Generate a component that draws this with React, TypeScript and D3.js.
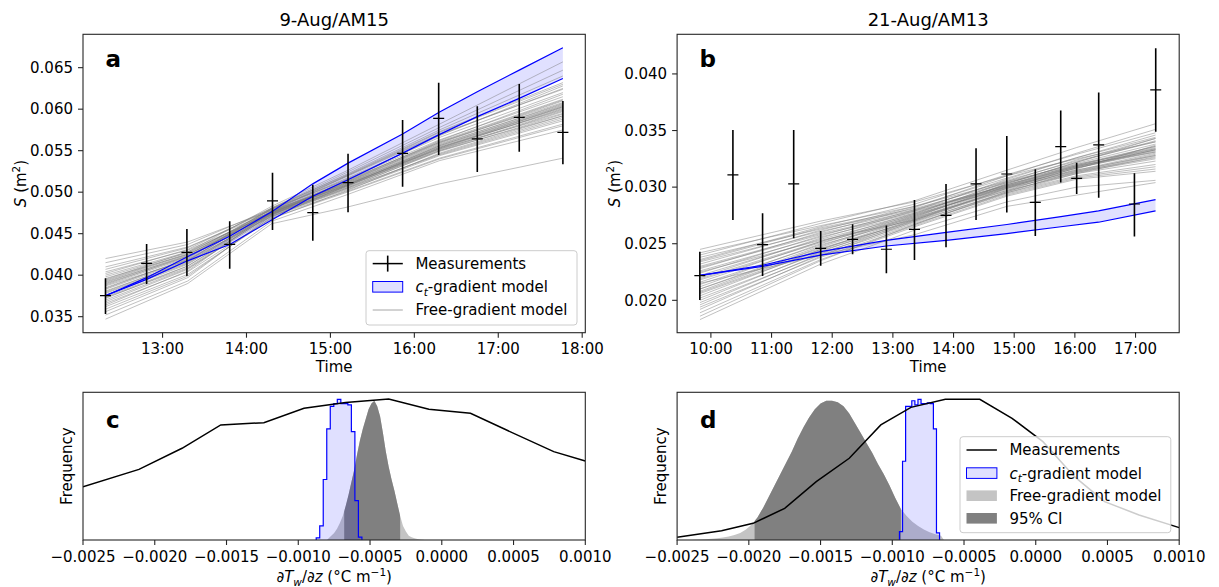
import React from "react";
import * as d3 from "d3";

const FONT = "'DejaVu Sans', 'Liberation Sans', sans-serif";

// ---------------- Panel a : 9-Aug/AM15 ----------------
const titleA = "9-Aug/AM15";
const timeTicksA = [13, 14, 15, 16, 17, 18];
const sTicksA = [0.035, 0.04, 0.045, 0.05, 0.055, 0.06, 0.065];
const measTimeA = [12.32, 12.81, 13.29, 13.8, 14.31, 14.79, 15.21, 15.86, 16.29, 16.75, 17.25, 17.77];
const measValA = [0.03753, 0.04143, 0.04275, 0.04371, 0.04894, 0.04753, 0.05114, 0.05468, 0.05889, 0.05641, 0.05901, 0.05721];
const measLoA = [0.03532, 0.03894, 0.0399, 0.04078, 0.04544, 0.04416, 0.04757, 0.05066, 0.05448, 0.05243, 0.05488, 0.05335];
const measHiA = [0.03962, 0.04376, 0.04556, 0.04649, 0.05235, 0.0509, 0.05464, 0.05869, 0.06319, 0.06034, 0.06303, 0.06098];
const ctUpperA = [0.03753, 0.0397, 0.0422, 0.0447, 0.0477, 0.051, 0.0535, 0.057, 0.0596, 0.0621, 0.0647, 0.0674];
const ctLowerA = [0.03753, 0.0395, 0.0417, 0.0437, 0.0467, 0.0495, 0.0515, 0.0547, 0.0569, 0.0591, 0.0613, 0.0637];
const freeTimeA = [12.32, 13.3, 14.3, 15.2, 16.3, 17.77];
const freeLinesA = [
  [0.042, 0.044, 0.0478, 0.051, 0.0552, 0.0595],
  [0.0415, 0.0437, 0.048, 0.0515, 0.056, 0.0608],
  [0.041, 0.0434, 0.0476, 0.0508, 0.055, 0.0592],
  [0.0407, 0.0433, 0.0479, 0.0517, 0.0566, 0.062],
  [0.0404, 0.043, 0.0474, 0.0505, 0.0545, 0.0588],
  [0.0402, 0.0431, 0.0481, 0.0521, 0.0573, 0.0632],
  [0.04, 0.0428, 0.0475, 0.0509, 0.0553, 0.06],
  [0.0398, 0.0427, 0.0477, 0.0513, 0.0559, 0.061],
  [0.0396, 0.0425, 0.0473, 0.0504, 0.0546, 0.059],
  [0.0394, 0.0426, 0.0479, 0.0519, 0.0569, 0.0625],
  [0.0392, 0.0423, 0.0474, 0.0507, 0.0551, 0.0598],
  [0.039, 0.0422, 0.0476, 0.0512, 0.0558, 0.0606],
  [0.0388, 0.0421, 0.0478, 0.0516, 0.0563, 0.0615],
  [0.0387, 0.0418, 0.0471, 0.0501, 0.0541, 0.0582],
  [0.0385, 0.0419, 0.0475, 0.051, 0.0556, 0.0604],
  [0.0383, 0.0418, 0.0477, 0.0514, 0.0561, 0.0612],
  [0.0381, 0.0416, 0.0474, 0.0508, 0.0552, 0.0601],
  [0.038, 0.0417, 0.048, 0.0522, 0.0575, 0.064],
  [0.0378, 0.0414, 0.0473, 0.0506, 0.0549, 0.0594],
  [0.0376, 0.0413, 0.0476, 0.0511, 0.0557, 0.0607],
  [0.0374, 0.0411, 0.0472, 0.0503, 0.0544, 0.0586],
  [0.0372, 0.0411, 0.0475, 0.0513, 0.0562, 0.0618],
  [0.037, 0.0408, 0.0471, 0.0505, 0.055, 0.0597],
  [0.0368, 0.0407, 0.0474, 0.0512, 0.056, 0.0611],
  [0.0366, 0.0404, 0.0469, 0.05, 0.054, 0.058],
  [0.0364, 0.0405, 0.0477, 0.052, 0.0572, 0.063],
  [0.0362, 0.0401, 0.0468, 0.0502, 0.0547, 0.0592],
  [0.0359, 0.0399, 0.047, 0.0508, 0.0556, 0.0605],
  [0.0356, 0.0397, 0.0472, 0.0515, 0.0568, 0.0628],
  [0.0352, 0.0393, 0.0465, 0.0497, 0.0538, 0.0575],
  [0.0347, 0.039, 0.0462, 0.0482, 0.051, 0.0541],
  [0.0395, 0.0428, 0.0483, 0.0526, 0.0582, 0.0657],
  [0.0384, 0.042, 0.0481, 0.0524, 0.0578, 0.0647],
  [0.0391, 0.0424, 0.048, 0.052, 0.057, 0.0624],
  [0.0389, 0.0423, 0.0477, 0.0511, 0.0555, 0.0603],
  [0.0379, 0.0415, 0.0475, 0.0509, 0.0554, 0.0602],
  [0.0393, 0.0425, 0.0476, 0.0509, 0.0554, 0.0599],
  [0.0373, 0.0409, 0.0473, 0.0507, 0.0553, 0.0603],
];

// ---------------- Panel b : 21-Aug/AM13 ----------------
const titleB = "21-Aug/AM13";
const timeTicksB = [10, 11, 12, 13, 14, 15, 16, 17];
const sTicksB = [0.02, 0.025, 0.03, 0.035, 0.04];
const measTimeB = [9.818, 10.363, 10.852, 11.365, 11.81, 12.336, 12.893, 13.356, 13.876, 14.371, 14.878, 15.348, 15.767, 16.03, 16.393, 16.982, 17.333];
const measValB = [0.02218, 0.03108, 0.02492, 0.03028, 0.02459, 0.02539, 0.02451, 0.02627, 0.02751, 0.03028, 0.03116, 0.02866, 0.03358, 0.03078, 0.03373, 0.02851, 0.03859];
const measHiB = [0.0243, 0.03505, 0.02769, 0.03505, 0.02613, 0.02672, 0.0266, 0.02887, 0.03028, 0.03343, 0.03452, 0.03158, 0.03676, 0.03216, 0.03835, 0.03122, 0.04227];
const measLoB = [0.02003, 0.0271, 0.02215, 0.02548, 0.02306, 0.02406, 0.02239, 0.02356, 0.02468, 0.0271, 0.02775, 0.02568, 0.0304, 0.0294, 0.02907, 0.02563, 0.0349];
const ctTimeB = [9.82, 10.85, 11.81, 12.89, 13.88, 14.88, 15.77, 16.39, 17.33];
const ctUpperB = [0.0222, 0.0231, 0.0243, 0.0253, 0.026, 0.0267, 0.0274, 0.0279, 0.0289];
const ctLowerB = [0.0222, 0.023, 0.024, 0.0248, 0.0253, 0.0259, 0.0265, 0.0269, 0.0279];
const freeTimeB = [9.82, 11.81, 13.36, 14.88, 16.03, 17.33];
const freeLinesB = [
  [0.0245, 0.027, 0.0287, 0.031, 0.0325, 0.034],
  [0.0242, 0.0266, 0.0283, 0.0305, 0.032, 0.0334],
  [0.024, 0.0268, 0.0288, 0.0315, 0.0335, 0.0356],
  [0.0238, 0.0263, 0.028, 0.0301, 0.0315, 0.0328],
  [0.0236, 0.0265, 0.0285, 0.0311, 0.0329, 0.0348],
  [0.0234, 0.0261, 0.0279, 0.03, 0.0314, 0.0326],
  [0.0232, 0.0262, 0.0283, 0.0308, 0.0326, 0.0344],
  [0.023, 0.0259, 0.0278, 0.0302, 0.0318, 0.0333],
  [0.0228, 0.026, 0.0282, 0.031, 0.033, 0.0351],
  [0.0226, 0.0256, 0.0276, 0.0299, 0.0313, 0.0325],
  [0.0224, 0.0257, 0.028, 0.0306, 0.0323, 0.034],
  [0.0222, 0.0254, 0.0275, 0.03, 0.0317, 0.0333],
  [0.022, 0.0255, 0.0279, 0.0307, 0.0326, 0.0346],
  [0.0218, 0.0251, 0.0273, 0.0297, 0.0312, 0.0323],
  [0.0216, 0.0252, 0.0277, 0.0304, 0.0321, 0.0338],
  [0.0214, 0.0249, 0.0272, 0.0298, 0.0315, 0.033],
  [0.0212, 0.025, 0.0276, 0.0305, 0.0324, 0.0343],
  [0.021, 0.0246, 0.027, 0.0295, 0.031, 0.032],
  [0.0208, 0.0247, 0.0274, 0.0302, 0.032, 0.0336],
  [0.0206, 0.0244, 0.0269, 0.0296, 0.0313, 0.0328],
  [0.0204, 0.0245, 0.0273, 0.0303, 0.0322, 0.0341],
  [0.0202, 0.0242, 0.0268, 0.0294, 0.0309, 0.0318],
  [0.02, 0.0243, 0.0272, 0.0301, 0.0319, 0.0335],
  [0.0198, 0.024, 0.0267, 0.0295, 0.0312, 0.0327],
  [0.0196, 0.0241, 0.0271, 0.03, 0.0318, 0.0333],
  [0.0194, 0.0238, 0.0266, 0.0293, 0.0308, 0.0316],
  [0.0192, 0.0239, 0.027, 0.0299, 0.0317, 0.0331],
  [0.0189, 0.0236, 0.0265, 0.0292, 0.0307, 0.0314],
  [0.0186, 0.0235, 0.0267, 0.0296, 0.0314, 0.0329],
  [0.0183, 0.0232, 0.0262, 0.0287, 0.03, 0.0306],
  [0.0215, 0.024, 0.0258, 0.0283, 0.0293, 0.0304],
  [0.0225, 0.0253, 0.0271, 0.0297, 0.0316, 0.0337],
  [0.0235, 0.0264, 0.0281, 0.0304, 0.0319, 0.0331],
  [0.021, 0.0248, 0.0275, 0.0303, 0.0322, 0.0343],
  [0.0219, 0.0252, 0.0274, 0.0301, 0.0318, 0.0334],
  [0.0207, 0.0245, 0.0271, 0.0299, 0.0317, 0.0332],
  [0.0229, 0.0258, 0.0277, 0.0302, 0.0319, 0.0336],
];

// ---------------- Panels c, d : gradient distributions ----------------
const gradTicks = [-0.0025, -0.002, -0.0015, -0.001, -0.0005, 0, 0.0005, 0.001];

const measCurveXC = [-0.0025, -0.00211, -0.00181, -0.00154, -0.00124, -0.00096, -0.00067, -0.00037, -0.00009, 0.0002, 0.00044, 0.00078, 0.001];
const measCurveYC = [0.379, 0.502, 0.652, 0.818, 0.834, 0.936, 0.977, 1.003, 0.929, 0.901, 0.787, 0.628, 0.562];
const ctHistStartC = -0.000875;
const ctHistWidthC = 0.0000245;
const ctHistC = [0.015, 0.1, 0.43, 0.79, 0.95, 0.97, 1.0, 0.97, 0.97, 0.96, 0.77, 0.28, 0.02];
const freeHistStartC = -0.0008;
const freeHistWidthC = 0.00002;
const freeHistC = [0.01, 0.03, 0.05, 0.08, 0.12, 0.17, 0.24, 0.32, 0.41, 0.5, 0.61, 0.71, 0.79, 0.86, 0.93, 0.97, 0.99, 0.95, 0.88, 0.76, 0.63, 0.52, 0.43, 0.35, 0.26, 0.17, 0.1, 0.06, 0.03, 0.02, 0.012, 0.007, 0.004, 0.002];
const ciC = [-0.00068, -0.00029];

const measCurveXD = [-0.0025, -0.00219, -0.00197, -0.00175, -0.00153, -0.0013, -0.00108, -0.00087, -0.00063, -0.00039, -0.000165, 0.00005, 0.00027, 0.00048, 0.00072, 0.001];
const measCurveYD = [0.019, 0.066, 0.1185, 0.225, 0.415, 0.581, 0.818, 0.943, 1.0, 1.0, 0.865, 0.699, 0.45, 0.273, 0.178, 0.088];
const ctHistStartD = -0.00095;
const ctHistWidthD = 0.0000215;
const ctHistD = [0.06, 0.56, 0.95, 0.95, 0.99, 0.96, 1.0, 0.97, 0.97, 0.975, 0.97, 0.79, 0.05];
const freeHistStartD = -0.0024;
const freeHistWidthD = 0.00004;
const freeHistD = [0.002, 0.004, 0.006, 0.009, 0.013, 0.018, 0.025, 0.035, 0.05, 0.075, 0.11, 0.16, 0.23, 0.31, 0.39, 0.47, 0.55, 0.63, 0.72, 0.8, 0.87, 0.93, 0.97, 0.99, 0.99, 0.98, 0.95, 0.9, 0.83, 0.76, 0.69, 0.62, 0.54, 0.47, 0.39, 0.3, 0.22, 0.17, 0.13, 0.1, 0.075, 0.055, 0.04, 0.03];
const ciD = [-0.00196, -0.00094];

// ---------------- layout & style ----------------
const PA = { x0: 83, x1: 585.3, y0: 34.3, y1: 332.7 };
const PB = { x0: 677.1, x1: 1179.2, y0: 34.3, y1: 332.7 };
const PC = { x0: 83, x1: 585.3, y0: 392.3, y1: 540 };
const PD = { x0: 677.1, x1: 1179.2, y0: 392.3, y1: 540 };
const FS = 15;
const BLUE = "#0000ff";
const LAV_OP = 0.12;
const LIGHT = "#c4c4c4";
const DARK = "#808080";
const SPINE = "#262626";

type P = { x0: number; x1: number; y0: number; y1: number };

function Frame({ p }: { p: P }) {
  return <rect x={p.x0} y={p.y0} width={p.x1 - p.x0} height={p.y1 - p.y0} fill="none" stroke={SPINE} strokeWidth={1.1} />;
}

function XAxis({ p, scale, ticks, fmt }: { p: P; scale: any; ticks: number[]; fmt: (v: number) => string }) {
  return (
    <g>
      {ticks.map((t, i) => (
        <g key={i}>
          <line x1={scale(t)} x2={scale(t)} y1={p.y1} y2={p.y1 + 5} stroke={SPINE} strokeWidth={1.1} />
          <text x={scale(t)} y={p.y1 + 21.5} textAnchor="middle" fontSize={FS} fill="#000">{fmt(t)}</text>
        </g>
      ))}
    </g>
  );
}

function YAxis({ p, scale, ticks, fmt }: { p: P; scale: any; ticks: number[]; fmt: (v: number) => string }) {
  return (
    <g>
      {ticks.map((t, i) => (
        <g key={i}>
          <line x1={p.x0 - 5} x2={p.x0} y1={scale(t)} y2={scale(t)} stroke={SPINE} strokeWidth={1.1} />
          <text x={p.x0 - 10} y={scale(t) + 5.3} textAnchor="end" fontSize={FS} fill="#000">{fmt(t)}</text>
        </g>
      ))}
    </g>
  );
}

function SLabel({ x, y }: { x: number; y: number }) {
  return (
    <text transform={`translate(${x},${y}) rotate(-90)`} textAnchor="middle" fontSize={FS}>
      <tspan fontStyle="italic">S</tspan>
      <tspan> (m</tspan>
      <tspan fontSize={10.5} dy={-6}>2</tspan>
      <tspan dy={6}>)</tspan>
    </text>
  );
}

function GradLabel({ x, y }: { x: number; y: number }) {
  return (
    <text x={x} y={y} textAnchor="middle" fontSize={FS}>
      <tspan>∂</tspan>
      <tspan fontStyle="italic">T</tspan>
      <tspan fontStyle="italic" fontSize={10.5} dy={3.5}>w</tspan>
      <tspan dy={-3.5}>/∂</tspan>
      <tspan fontStyle="italic">z</tspan>
      <tspan> (°C m</tspan>
      <tspan fontSize={10.5} dy={-6}>−1</tspan>
      <tspan dy={6}>)</tspan>
    </text>
  );
}

function CtText({ x, y }: { x: number; y: number }) {
  return (
    <text x={x} y={y} fontSize={FS}>
      <tspan fontStyle="italic">c</tspan>
      <tspan fontStyle="italic" fontSize={10.5} dy={3.5}>t</tspan>
      <tspan dy={-3.5}>-gradient model</tspan>
    </text>
  );
}

function stepPoints(start: number, width: number, h: number[]) {
  const pts: [number, number][] = [[start, 0]];
  h.forEach((v, i) => {
    pts.push([start + i * width, v]);
    pts.push([start + (i + 1) * width, v]);
  });
  pts.push([start + h.length * width, 0]);
  return pts;
}

function centerPoints(start: number, width: number, h: number[]) {
  const pts: [number, number][] = [[start, 0]];
  h.forEach((v, i) => pts.push([start + (i + 0.5) * width, v]));
  pts.push([start + h.length * width, 0]);
  return pts;
}

function TimePanel(props: {
  p: P; id: string; xDom: [number, number]; yDom: [number, number];
  xTicks: number[]; yTicks: number[]; title: string; letter: string;
  mT: number[]; mV: number[]; mLo: number[]; mHi: number[];
  ctT: number[]; ctU: number[]; ctL: number[];
  fT: number[]; fL: number[][]; legend: boolean;
}) {
  const { p } = props;
  const x = d3.scaleLinear().domain(props.xDom).range([p.x0, p.x1]);
  const y = d3.scaleLinear().domain(props.yDom).range([p.y1, p.y0]);
  const idx = props.ctT.map((_, i) => i);
  const area = d3.area<number>().x((i) => x(props.ctT[i])).y0((i) => y(props.ctL[i])).y1((i) => y(props.ctU[i]));
  const lineU = d3.line<number>().x((i) => x(props.ctT[i])).y((i) => y(props.ctU[i]));
  const lineL = d3.line<number>().x((i) => x(props.ctT[i])).y((i) => y(props.ctL[i]));
  const fLine = d3.line<number>().x((v, i) => x(props.fT[i])).y((v) => y(v));
  const cx = (p.x0 + p.x1) / 2;
  return (
    <g>
      <defs>
        <clipPath id={props.id}>
          <rect x={p.x0} y={p.y0} width={p.x1 - p.x0} height={p.y1 - p.y0} />
        </clipPath>
      </defs>
      <text x={cx} y={p.y0 - 8} textAnchor="middle" fontSize={18}>{props.title}</text>
      <g clipPath={`url(#${props.id})`}>
        <path d={area(idx) || ""} fill={BLUE} fillOpacity={LAV_OP} stroke="none" />
        {props.fL.map((l, k) => (
          <path key={k} d={fLine(l) || ""} fill="none" stroke="#7a7a7a" strokeOpacity={0.6} strokeWidth={0.8} />
        ))}
        <path d={lineU(idx) || ""} fill="none" stroke={BLUE} strokeWidth={1.2} />
        <path d={lineL(idx) || ""} fill="none" stroke={BLUE} strokeWidth={1.2} />
        {props.mT.map((t, i) => (
          <g key={i}>
            <line x1={x(t)} x2={x(t)} y1={y(props.mLo[i])} y2={y(props.mHi[i])} stroke="#000" strokeWidth={1.6} />
            <line x1={x(t) - 5.5} x2={x(t) + 5.5} y1={y(props.mV[i])} y2={y(props.mV[i])} stroke="#000" strokeWidth={1.2} />
          </g>
        ))}
      </g>
      <Frame p={p} />
      <XAxis p={p} scale={x} ticks={props.xTicks} fmt={(h) => `${h}:00`} />
      <YAxis p={p} scale={y} ticks={props.yTicks} fmt={d3.format(".3f")} />
      <text x={cx} y={p.y1 + 39} textAnchor="middle" fontSize={FS}>Time</text>
      <SLabel x={p.x0 - 57} y={(p.y0 + p.y1) / 2} />
      <text x={p.x0 + 22.5} y={p.y0 + 32.4} fontSize={23} fontWeight="bold">{props.letter}</text>
      {props.legend && (
        <g>
          <rect x={366} y={250.7} width={211} height={74.3} rx={3} fill="#fff" fillOpacity={0.8} stroke="#cccccc" strokeWidth={1} />
          <line x1={372.7} x2={402.8} y1={263.6} y2={263.6} stroke="#000" strokeWidth={1.5} />
          <line x1={387.7} x2={387.7} y1={255.6} y2={271.6} stroke="#000" strokeWidth={1.6} />
          <text x={415.4} y={269} fontSize={FS}>Measurements</text>
          <rect x={372.7} y={281.5} width={30} height={10.6} fill={BLUE} fillOpacity={LAV_OP} stroke={BLUE} strokeWidth={1} />
          <CtText x={415.4} y={292.2} />
          <line x1={372.7} x2={402.8} y1={310} y2={310} stroke="#808080" strokeOpacity={0.7} strokeWidth={1} />
          <text x={415.4} y={315.4} fontSize={FS}>Free-gradient model</text>
        </g>
      )}
    </g>
  );
}

function HistPanel(props: {
  p: P; id: string; letter: string;
  mX: number[]; mY: number[];
  ctStart: number; ctWidth: number; ctH: number[];
  fStart: number; fWidth: number; fH: number[]; ci: number[]; legend: boolean;
}) {
  const { p } = props;
  const x = d3.scaleLinear().domain([-0.0025, 0.001]).range([p.x0, p.x1]);
  const y = d3.scaleLinear().domain([0, 1.05]).range([p.y1, p.y0]);
  const area = d3.area<[number, number]>().x((d) => x(d[0])).y0(y(0)).y1((d) => y(d[1]));
  const stepLine = d3.line<[number, number]>().x((d) => x(d[0])).y((d) => y(d[1]));
  const freePts = centerPoints(props.fStart, props.fWidth, props.fH);
  const ctPts = stepPoints(props.ctStart, props.ctWidth, props.ctH);
  const mLine = d3.line<number>().x((v) => x(v)).y((v, i) => y(props.mY[i]));
  const cx = (p.x0 + p.x1) / 2;
  return (
    <g>
      <defs>
        <clipPath id={props.id}>
          <rect x={p.x0} y={p.y0} width={p.x1 - p.x0} height={p.y1 - p.y0} />
        </clipPath>
        <clipPath id={props.id + "ci"}>
          <rect x={x(props.ci[0])} y={p.y0} width={x(props.ci[1]) - x(props.ci[0])} height={p.y1 - p.y0} />
        </clipPath>
      </defs>
      <g clipPath={`url(#${props.id})`}>
        <path d={area(freePts) || ""} fill={LIGHT} stroke="none" />
        <g clipPath={`url(#${props.id}ci)`}>
          <path d={area(freePts) || ""} fill={DARK} stroke="none" />
        </g>
        <path d={area(ctPts) || ""} fill={BLUE} fillOpacity={LAV_OP} stroke="none" />
        <path d={stepLine(ctPts) || ""} fill="none" stroke={BLUE} strokeWidth={1.2} />
        <path d={mLine(props.mX) || ""} fill="none" stroke="#000" strokeWidth={1.5} />
      </g>
      <Frame p={p} />
      <XAxis p={p} scale={x} ticks={gradTicks} fmt={d3.format(".4f")} />
      <GradLabel x={cx} y={p.y1 + 42} />
      <text transform={`translate(${p.x0 - 11},${(p.y0 + p.y1) / 2}) rotate(-90)`} textAnchor="middle" fontSize={FS}>Frequency</text>
      <text x={p.x0 + 23} y={p.y0 + 36} fontSize={23} fontWeight="bold">{props.letter}</text>
      {props.legend && (
        <g>
          <rect x={960} y={436.7} width={210.8} height={96} rx={3} fill="#fff" fillOpacity={0.8} stroke="#cccccc" strokeWidth={1} />
          <line x1={966.5} x2={996.9} y1={450} y2={450} stroke="#000" strokeWidth={1.5} />
          <text x={1009.4} y={455.4} fontSize={FS}>Measurements</text>
          <rect x={966.5} y={467.8} width={30.4} height={10.6} fill={BLUE} fillOpacity={LAV_OP} stroke={BLUE} strokeWidth={1} />
          <CtText x={1009.4} y={478.5} />
          <rect x={966.5} y={490.4} width={30.4} height={10.6} fill={LIGHT} />
          <text x={1009.4} y={501.1} fontSize={FS}>Free-gradient model</text>
          <rect x={966.5} y={513} width={30.4} height={10.6} fill={DARK} />
          <text x={1009.4} y={523.7} fontSize={FS}>95% CI</text>
        </g>
      )}
    </g>
  );
}

export default function App() {
  return (
    <svg width={1219} height={587} style={{ position: "absolute", left: 0, top: 0, background: "#fff" }} fontFamily={FONT}>
      <rect x={0} y={0} width={1219} height={587} fill="#fff" />
      <TimePanel p={PA} id="ca" xDom={[12.052, 18.037]} yDom={[0.03307, 0.06902]} xTicks={timeTicksA} yTicks={sTicksA}
        title={titleA} letter="a" mT={measTimeA} mV={measValA} mLo={measLoA} mHi={measHiA}
        ctT={measTimeA} ctU={ctUpperA} ctL={ctLowerA} fT={freeTimeA} fL={freeLinesA} legend={true} />
      <TimePanel p={PB} id="cb" xDom={[9.443, 17.72]} yDom={[0.01714, 0.0435]} xTicks={timeTicksB} yTicks={sTicksB}
        title={titleB} letter="b" mT={measTimeB} mV={measValB} mLo={measLoB} mHi={measHiB}
        ctT={ctTimeB} ctU={ctUpperB} ctL={ctLowerB} fT={freeTimeB} fL={freeLinesB} legend={false} />
      <HistPanel p={PC} id="cc" letter="c" mX={measCurveXC} mY={measCurveYC}
        ctStart={ctHistStartC} ctWidth={ctHistWidthC} ctH={ctHistC}
        fStart={freeHistStartC} fWidth={freeHistWidthC} fH={freeHistC} ci={ciC} legend={false} />
      <HistPanel p={PD} id="cd" letter="d" mX={measCurveXD} mY={measCurveYD}
        ctStart={ctHistStartD} ctWidth={ctHistWidthD} ctH={ctHistD}
        fStart={freeHistStartD} fWidth={freeHistWidthD} fH={freeHistD} ci={ciD} legend={true} />
    </svg>
  );
}
